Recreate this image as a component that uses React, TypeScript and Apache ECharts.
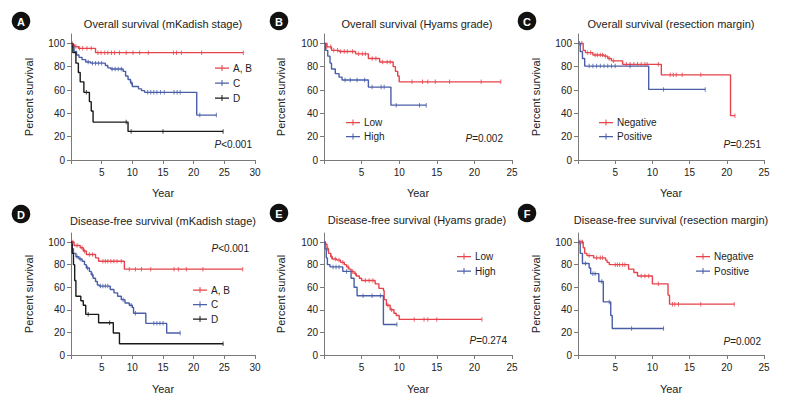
import React, { useEffect, useRef } from "react";
import * as echarts from "echarts";

const RED = "#e6434b";
const BLUE = "#4a5ea8";
const BLACK = "#1a1a1a";
const FONT = "'Liberation Sans', Arial, Helvetica, sans-serif";

// ---- Panel titles, legends, p-values ----
const panelLetters = ["A", "B", "C", "D", "E", "F"];
const panelTitles = [
  "Overall survival (mKadish stage)",
  "Overall survival (Hyams grade)",
  "Overall survival (resection margin)",
  "Disease-free survival (mKadish stage)",
  "Disease-free survival (Hyams grade)",
  "Disease-free survival (resection margin)",
];
const pValues = ["<0.001", "=0.002", "=0.251", "<0.001", "=0.274", "=0.002"];
const xMaxes = [30, 25, 25, 30, 25, 25];
const yTickValues = [0, 20, 40, 60, 80, 100];

// ---- Panel A: Overall survival (mKadish stage) ----
const aAB = [[0, 100], [0.3, 98.6], [0.6, 97.2], [1.2, 95.7], [4, 92], [28.1, 92]];
const aABcens = [[0.16, 100], [0.8, 97.2], [1.4, 95.7], [1.9, 95.7], [2.6, 95.7], [3.3, 95.7], [4.4, 92], [4.9, 92], [5.5, 92], [6, 92], [6.6, 92], [7.1, 92], [7.9, 92], [9, 92], [10.1, 92], [11.2, 92], [12.6, 92], [16.7, 92], [17.2, 92], [18, 92], [21.3, 92], [28.1, 92]];
const aC = [[0, 100], [0.2, 97], [0.5, 93], [0.9, 90], [1.3, 88], [1.8, 86], [2.4, 84], [3.2, 83], [5.6, 81], [6, 79], [6.5, 78], [8.5, 76], [8.9, 72], [9.3, 69], [9.7, 66], [10, 63], [11, 61], [11.5, 59.5], [12, 58], [20.5, 38.5], [23.7, 38.5]];
const aCcens = [[2.8, 84], [3.5, 83], [4, 83], [4.5, 83], [5, 83], [6.7, 78], [7.2, 78], [7.7, 78], [8.2, 78], [9.9, 66], [12.5, 58], [13, 58], [13.5, 58], [14, 58], [14.6, 58], [15.2, 58], [16.8, 58], [17.3, 58], [17.8, 58], [21, 38.5], [23.7, 38.5]];
const aD = [[0, 100], [0.3, 92], [0.8, 83], [1.2, 75], [1.5, 67], [2.1, 58], [3, 50], [3.3, 42], [3.6, 32.5], [9.3, 24.5], [24.8, 24.5]];
const aDcens = [[2.5, 58], [9, 32.5], [9.8, 24.5], [15, 24.5], [24.8, 24.5]];

// ---- Panel B: Overall survival (Hyams grade) ----
const bLow = [[0, 100], [0.4, 97], [1, 94], [2, 93], [4.2, 91], [5.9, 87], [7.4, 84], [9.2, 80], [9.5, 76], [9.8, 72], [10, 67], [23.5, 67]];
const bLowCens = [[0.35, 97], [0.9, 97], [1.3, 94], [1.8, 94], [2.2, 93], [2.7, 93], [3.1, 93], [3.8, 93], [4.6, 91], [5.1, 91], [5.5, 91], [6.4, 87], [6.9, 87], [7.8, 84], [8.4, 84], [8.8, 84], [11.7, 67], [13.1, 67], [13.8, 67], [14.8, 67], [16.7, 67], [20.9, 67], [23.5, 67]];
const bHigh = [[0, 100], [0.2, 94], [0.5, 89], [0.8, 83], [1, 78], [1.5, 74], [2, 71], [2.4, 68.6], [5.9, 62.5], [8.9, 47], [13.6, 47]];
const bHighCens = [[2.8, 68.6], [3.5, 68.6], [4.4, 68.6], [5.4, 68.6], [6.4, 62.5], [7.6, 62.5], [8, 62.5], [9.6, 47], [12.7, 47], [13.6, 47]];

// ---- Panel C: Overall survival (resection margin) ----
const cNeg = [[0, 100], [0.7, 94], [1, 92], [2, 90], [3.5, 89], [4, 87], [4.5, 85], [6, 82], [11.2, 73], [20.5, 38], [21.1, 38]];
const cNegCens = [[0.2, 100], [0.5, 100], [1.3, 92], [1.7, 92], [2.3, 90], [2.6, 90], [3, 90], [3.3, 90], [3.7, 89], [4.2, 87], [4.8, 85], [6.5, 82], [7, 82], [7.5, 82], [8, 82], [8.5, 82], [9, 82], [9.3, 82], [10.8, 82], [12.4, 73], [12.8, 73], [13.2, 73], [14, 73], [16.5, 73], [21.1, 38]];
const cPos = [[0, 100], [0.3, 93], [0.6, 87], [0.9, 80.5], [9.5, 60.5], [17.1, 60.5]];
const cPosCens = [[1.5, 80.5], [2, 80.5], [2.5, 80.5], [3, 80.5], [3.5, 80.5], [4, 80.5], [4.5, 80.5], [5, 80.5], [7, 80.5], [11.5, 60.5], [17.1, 60.5]];

// ---- Panel D: Disease-free survival (mKadish stage) ----
const dAB = [[0, 100], [0.5, 97], [1.5, 95], [2, 92], [2.5, 89], [4, 86], [4.5, 83], [8.7, 76], [28, 76]];
const dABcens = [[0.3, 100], [1, 97], [1.8, 95], [2.2, 92], [3, 89], [3.5, 89], [5.2, 83], [5.6, 83], [6, 83], [6.5, 83], [7, 83], [7.5, 83], [8.2, 83], [9.5, 76], [10.5, 76], [11.5, 76], [13, 76], [16.8, 76], [17.5, 76], [18.8, 76], [21.5, 76], [28, 76]];
const dC = [[0, 100], [0.2, 94], [0.4, 90], [0.8, 87], [1.3, 85], [1.8, 83], [2.2, 80], [2.5, 77], [3, 74], [3.3, 71], [3.6, 68], [4, 65], [4.3, 62], [4.6, 61], [6.4, 58], [7, 55], [7.6, 52], [8.2, 49], [8.8, 46], [9.5, 44], [10, 42], [10.2, 37], [12.2, 28], [15.6, 19.5], [17.8, 19.5]];
const dCcens = [[1, 87], [1.5, 85], [2.7, 77], [3.5, 71], [4.8, 61], [5.2, 61], [5.6, 61], [6, 61], [8.5, 49], [9.8, 44], [10.5, 37], [13.5, 28], [14, 28], [14.5, 28], [15, 28], [17.8, 19.5]];
const dD = [[0, 100], [0.2, 90], [0.4, 80], [0.6, 66], [0.8, 52], [1.6, 48], [2, 44], [2.4, 36], [4.5, 28.5], [6.9, 19.5], [7.9, 10], [24.8, 10]];
const dDcens = [[2.8, 36], [6.3, 28.5], [24.8, 10]];

// ---- Panel E: Disease-free survival (Hyams grade) ----
const eLow = [[0, 100], [0.2, 98], [0.4, 94], [0.6, 90], [0.9, 87], [1.1, 85], [1.7, 84], [2.2, 82], [2.7, 80], [3, 78], [3.3, 76], [3.6, 74], [4, 72], [4.3, 70], [4.7, 68], [5, 66], [6.8, 63], [7.3, 59], [7.9, 57], [8, 49], [8.3, 44], [8.8, 40], [9.3, 37], [9.6, 35], [10, 31.5], [21, 31.5]];
const eLowCens = [[0.5, 94], [1, 87], [1.5, 85], [2, 84], [2.5, 82], [3.2, 78], [3.8, 74], [4.2, 72], [5.5, 66], [6, 66], [6.5, 66], [8.5, 44], [9, 40], [12, 31.5], [13.3, 31.5], [13.8, 31.5], [15, 31.5], [21, 31.5]];
const eHigh = [[0, 100], [0.15, 94], [0.3, 86], [0.45, 80], [0.8, 78], [2.5, 74], [3.6, 68], [4, 60], [4.4, 52.5], [7.9, 27], [9.7, 27]];
const eHighCens = [[1.2, 78], [1.6, 78], [2, 78], [3, 74], [5.2, 52.5], [6.4, 52.5], [7.5, 52.5], [9.7, 27]];

// ---- Panel F: Disease-free survival (resection margin) ----
const fNeg = [[0, 100], [0.7, 95], [0.9, 90], [1.2, 88], [2.1, 86], [3.7, 84], [3.9, 82], [4.2, 80], [6.8, 76], [7.5, 73], [8, 70], [10, 63], [12.1, 53], [12.3, 45], [21, 45]];
const fNegCens = [[0.2, 100], [0.4, 100], [0.6, 100], [1.5, 88], [2.5, 86], [3, 86], [3.3, 86], [5, 80], [5.3, 80], [5.6, 80], [6, 80], [6.3, 80], [8.5, 70], [9, 70], [9.5, 70], [10.8, 63], [12.7, 45], [13, 45], [13.5, 45], [16.5, 45], [21, 45]];
const fPos = [[0, 100], [0.3, 90], [0.6, 81], [1.5, 77], [1.7, 72], [2.8, 65], [3.4, 47], [4.4, 35], [4.6, 23.5], [11.5, 23.5]];
const fPosCens = [[1, 81], [2, 72], [2.3, 72], [3.2, 65], [4.2, 47], [7.2, 23.5], [11.5, 23.5]];

type Curve = { name: string; color: string; data: number[][]; cens: number[][] };

const panelCurves: Curve[][] = [
  [
    { name: "A, B", color: RED, data: aAB, cens: aABcens },
    { name: "C", color: BLUE, data: aC, cens: aCcens },
    { name: "D", color: BLACK, data: aD, cens: aDcens },
  ],
  [
    { name: "Low", color: RED, data: bLow, cens: bLowCens },
    { name: "High", color: BLUE, data: bHigh, cens: bHighCens },
  ],
  [
    { name: "Negative", color: RED, data: cNeg, cens: cNegCens },
    { name: "Positive", color: BLUE, data: cPos, cens: cPosCens },
  ],
  [
    { name: "A, B", color: RED, data: dAB, cens: dABcens },
    { name: "C", color: BLUE, data: dC, cens: dCcens },
    { name: "D", color: BLACK, data: dD, cens: dDcens },
  ],
  [
    { name: "Low", color: RED, data: eLow, cens: eLowCens },
    { name: "High", color: BLUE, data: eHigh, cens: eHighCens },
  ],
  [
    { name: "Negative", color: RED, data: fNeg, cens: fNegCens },
    { name: "Positive", color: BLUE, data: fPos, cens: fPosCens },
  ],
];

// ---- layout (positions / sizes) ----
const grids = [
  { left: 71, top: 34, width: 184, height: 126 },
  { left: 324, top: 34, width: 188, height: 126 },
  { left: 578, top: 34, width: 186, height: 126 },
  { left: 71, top: 233, width: 184, height: 122 },
  { left: 324, top: 233, width: 188, height: 122 },
  { left: 578, top: 233, width: 186, height: 122 },
];
const yNameGaps = [37, 38, 37, 37, 38, 37];
const xNameGaps = [27, 27, 27, 28, 28, 28];
const circlePos = [[21, 21], [279, 21], [527, 21], [21, 214], [279, 213], [527, 213]];
const titlePos = [[163, 24], [417, 24], [671, 24], [163, 221], [417, 220], [671, 220]];
const pPos = [[252, 144], [503, 138], [761, 144], [249, 248], [507, 340], [761, 341]];
const legendPos = [
  { left: 215, top: 62, gap: 3 },
  { left: 346, top: 116.5, gap: 2 },
  { left: 599, top: 116.5, gap: 2 },
  { left: 193, top: 284, gap: 2.5 },
  { left: 457, top: 250.5, gap: 2.5 },
  { left: 696, top: 250.5, gap: 2.5 },
];

const LEGEND_ICON = "path://M0,2.4h14v1.3H0z M6.5,0h1v6H6.5z";
const AXIS_COLOR = "#7a7a7a";
const TEXT_COLOR = "#222";

function buildOption() {
  const series: any[] = [];
  panelCurves.forEach((curves, i) => {
    curves.forEach((c) => {
      series.push({
        type: "line",
        name: c.name,
        xAxisIndex: i,
        yAxisIndex: i,
        data: c.data,
        step: "end",
        symbol: "none",
        color: c.color,
        lineStyle: { color: c.color, width: 1.4 },
        silent: true,
        z: 3,
      });
      series.push({
        type: "scatter",
        name: c.name + " censored " + i,
        xAxisIndex: i,
        yAxisIndex: i,
        data: c.cens,
        symbol: "rect",
        symbolSize: [1, 4.5],
        itemStyle: { color: c.color },
        silent: true,
        z: 4,
      });
    });
  });

  const graphic: any[] = [];
  panelLetters.forEach((letter, i) => {
    graphic.push({
      type: "circle",
      shape: { cx: circlePos[i][0], cy: circlePos[i][1], r: 9.3 },
      style: { fill: "#111" },
    });
    graphic.push({
      type: "text",
      x: circlePos[i][0],
      y: circlePos[i][1] + 0.5,
      style: {
        text: letter,
        fill: "#fff",
        fontSize: 11,
        fontWeight: "bold",
        fontFamily: FONT,
        align: "center",
        verticalAlign: "middle",
        textAlign: "center",
        textVerticalAlign: "middle",
      },
    });
    graphic.push({
      type: "text",
      x: titlePos[i][0],
      y: titlePos[i][1],
      style: {
        text: panelTitles[i],
        fill: TEXT_COLOR,
        fontSize: 11,
        fontWeight: "normal",
        fontFamily: FONT,
        align: "center",
        verticalAlign: "middle",
        textAlign: "center",
        textVerticalAlign: "middle",
      },
    });
    graphic.push({
      type: "text",
      x: pPos[i][0],
      y: pPos[i][1],
      style: {
        text: "{i|P}" + pValues[i],
        fill: TEXT_COLOR,
        fontSize: 10,
        fontWeight: "normal",
        fontFamily: FONT,
        align: "right",
        verticalAlign: "middle",
        textAlign: "right",
        textVerticalAlign: "middle",
        rich: { i: { fontStyle: "italic", fontSize: 10, fontFamily: FONT, fill: TEXT_COLOR } },
      },
    });
  });

  return {
    animation: false,
    backgroundColor: "#ffffff",
    textStyle: { fontFamily: FONT },
    grid: grids.map((g) => ({ ...g, containLabel: false })),
    xAxis: grids.map((_, i) => ({
      type: "value",
      gridIndex: i,
      min: 0,
      max: xMaxes[i],
      interval: 5,
      name: "Year",
      nameLocation: "middle",
      nameGap: xNameGaps[i],
      nameTextStyle: { fontSize: 11, color: TEXT_COLOR, fontFamily: FONT },
      axisLine: { show: true, lineStyle: { color: AXIS_COLOR, width: 1 } },
      axisTick: { show: true, length: 4, lineStyle: { color: AXIS_COLOR } },
      axisLabel: {
        fontSize: 10,
        color: TEXT_COLOR,
        margin: 7,
        fontFamily: FONT,
        formatter: (v: number) => (v === 0 ? "" : String(v)),
      },
      splitLine: { show: false },
    })),
    yAxis: grids.map((_, i) => ({
      type: "value",
      gridIndex: i,
      min: 0,
      max: 108,
      interval: 20,
      name: "Percent survival",
      nameLocation: "middle",
      nameGap: yNameGaps[i],
      nameTextStyle: { fontSize: 11, color: TEXT_COLOR, fontFamily: FONT },
      axisLine: { show: true, lineStyle: { color: AXIS_COLOR, width: 1 } },
      axisTick: { show: true, length: 4, lineStyle: { color: AXIS_COLOR }, customValues: yTickValues },
      axisLabel: { fontSize: 10, color: TEXT_COLOR, margin: 6, fontFamily: FONT, customValues: yTickValues },
      splitLine: { show: false },
    })),
    legend: panelCurves.map((curves, i) => ({
      orient: "vertical",
      left: legendPos[i].left,
      top: legendPos[i].top,
      itemGap: legendPos[i].gap,
      itemWidth: 14,
      itemHeight: 6,
      icon: LEGEND_ICON,
      padding: 0,
      selectedMode: false,
      itemStyle: { borderWidth: 0 },
      textStyle: { fontSize: 10, color: TEXT_COLOR, fontFamily: FONT, lineHeight: 12, padding: [0, 0, 0, -1] },
      data: curves.map((c) => ({ name: c.name, itemStyle: { color: c.color } })),
    })),
    series,
    graphic,
  };
}

export default function App() {
  const ref = useRef<HTMLDivElement>(null);
  useEffect(() => {
    document.body.style.margin = "0";
    if (!ref.current) return;
    const chart = echarts.init(ref.current, undefined, { renderer: "svg" });
    chart.setOption(buildOption() as any);
    return () => {
      chart.dispose();
    };
  }, []);
  return <div ref={ref} style={{ width: 785, height: 403, position: "absolute", left: 0, top: 0 }} />;
}
